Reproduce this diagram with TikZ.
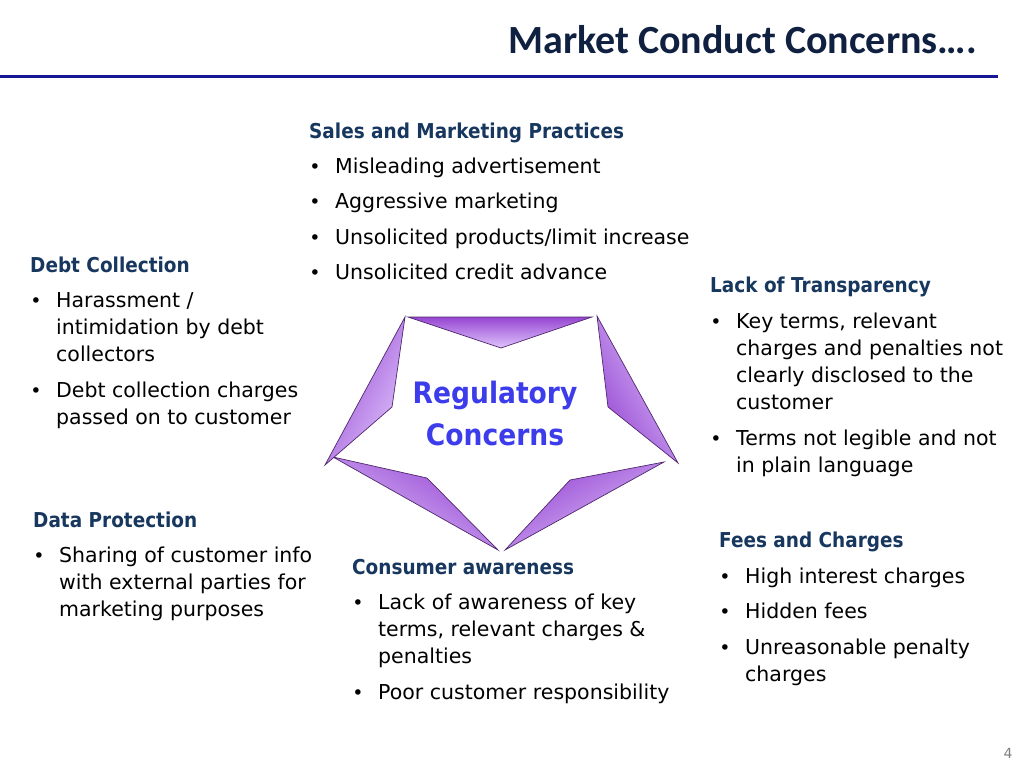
\documentclass[tikz,border=0pt]{standalone}
\usepackage{fontspec}
\setmainfont{DejaVu Sans}[BoldFeatures={FakeStretch=0.9}]
\newfontfamily\titlefont{Carlito}
\definecolor{headc}{RGB}{23,55,94}
\definecolor{titlec}{RGB}{15,32,64}
\definecolor{rulec}{RGB}{22,22,150}
\definecolor{regc}{RGB}{60,60,235}
\definecolor{purpD}{RGB}{150,70,210}
\definecolor{purpL}{RGB}{222,196,252}
\definecolor{purpE}{RGB}{80,40,110}
\definecolor{pgc}{RGB}{128,128,128}
\tikzset{
  hd/.style={anchor=base west, inner sep=0pt, text=headc, font=\fontsize{20.5}{24}\selectfont\bfseries},
  tx/.style={anchor=base west, inner sep=0pt, text=black, font=\fontsize{20.5}{24}\selectfont},
  bu/.style={anchor=base, inner sep=0pt, text=black, font=\fontsize{19}{22}\selectfont},
  tri/.style={draw=purpE, line width=0.7pt, line join=miter},
}
\begin{document}
\begin{tikzpicture}[x=1pt,y=-1pt]
\useasboundingbox (0,0) rectangle (1024,768);
% title
\node[anchor=base east, inner sep=0pt, text=titlec, font=\titlefont\fontsize{40}{46}\selectfont\bfseries] (title) at (977,54) {Market Conduct Concerns….};
\coordinate (ruleL) at (0,76);
\coordinate (ruleR) at (998,76);
\draw[rulec, line width=3pt] (ruleL) -- (ruleR);
% star
\shade[tri, left color=purpD, right color=purpL, shading angle=0] (408,317) -- (592,317) -- (501,348) -- cycle;
\shade[tri, left color=purpL, right color=purpD, shading angle=-61] (597,316) -- (678,463) -- (608,407) -- cycle;
\shade[tri, left color=purpL, right color=purpD, shading angle=-151] (664,462) -- (505,550) -- (570,480) -- cycle;
\shade[tri, left color=purpL, right color=purpD, shading angle=150] (333,457) -- (498,550) -- (427,478) -- cycle;
\shade[tri, left color=purpL, right color=purpD, shading angle=242] (405,317) -- (325,465) -- (392,407) -- cycle;
\node[anchor=base, inner sep=0pt, text=regc, font=\fontsize{29.5}{34}\selectfont\bfseries] (reg1) at (495,403) {Regulatory};
\node[anchor=base, inner sep=0pt, text=regc, font=\fontsize{29.5}{34}\selectfont\bfseries] (reg2) at (495,445) {Concerns};
% Sales and Marketing
\node[hd] (s0) at (309,138) {Sales and Marketing Practices};
\node[bu] (sb1) at (315,173) {•}; \node[tx] (s1) at (335,173) {Misleading advertisement};
\node[bu] (sb2) at (315,208) {•}; \node[tx] (s2) at (335,208) {Aggressive marketing};
\node[bu] (sb3) at (315,244) {•}; \node[tx] (s3) at (335,244) {Unsolicited products/limit increase};
\node[bu] (sb4) at (315,279) {•}; \node[tx] (s4) at (335,279) {Unsolicited credit advance};
% Debt Collection
\node[hd] (d0) at (30,272) {Debt Collection};
\node[bu] (db1) at (36,307) {•}; \node[tx] (d1) at (56,307) {Harassment /};
\node[tx] (d2) at (56,334) {intimidation by debt};
\node[tx] (d3) at (56,361) {collectors};
\node[bu] (db2) at (36,397) {•}; \node[tx] (d4) at (56,397) {Debt collection charges};
\node[tx] (d5) at (56,424) {passed on to customer};
% Lack of Transparency
\node[hd] (l0) at (710,292) {Lack of Transparency};
\node[bu] (lb1) at (716,328) {•}; \node[tx] (l1) at (736,328) {Key terms, relevant};
\node[tx] (l2) at (736,355) {charges and penalties not};
\node[tx] (l3) at (736,382) {clearly disclosed to the};
\node[tx] (l4) at (736,409) {customer};
\node[bu] (lb2) at (716,445) {•}; \node[tx] (l5) at (736,445) {Terms not legible and not};
\node[tx] (l6) at (736,472) {in plain language};
% Data Protection
\node[hd] (p0) at (33,527) {Data Protection};
\node[bu] (pb1) at (39,562) {•}; \node[tx] (p1) at (59,562) {Sharing of customer info};
\node[tx] (p2) at (59,589) {with external parties for};
\node[tx] (p3) at (59,616) {marketing purposes};
% Consumer awareness
\node[hd] (c0) at (352,574) {Consumer awareness};
\node[bu] (cb1) at (358,609) {•}; \node[tx] (c1) at (378,609) {Lack of awareness of key};
\node[tx] (c2) at (378,636) {terms, relevant charges \&};
\node[tx] (c3) at (378,663) {penalties};
\node[bu] (cb2) at (358,699) {•}; \node[tx] (c4) at (378,699) {Poor customer responsibility};
% Fees and Charges
\node[hd] (f0) at (719,547) {Fees and Charges};
\node[bu] (fb1) at (725,583) {•}; \node[tx] (f1) at (745,583) {High interest charges};
\node[bu] (fb2) at (725,618) {•}; \node[tx] (f2) at (745,618) {Hidden fees};
\node[bu] (fb3) at (725,654) {•}; \node[tx] (f3) at (745,654) {Unreasonable penalty};
\node[tx] (f4) at (745,681) {charges};
% page number
\node[anchor=base, inner sep=0pt, text=pgc, font=\fontsize{14}{16}\selectfont] (pg) at (1008,758) {4};
\end{tikzpicture}
\end{document}
